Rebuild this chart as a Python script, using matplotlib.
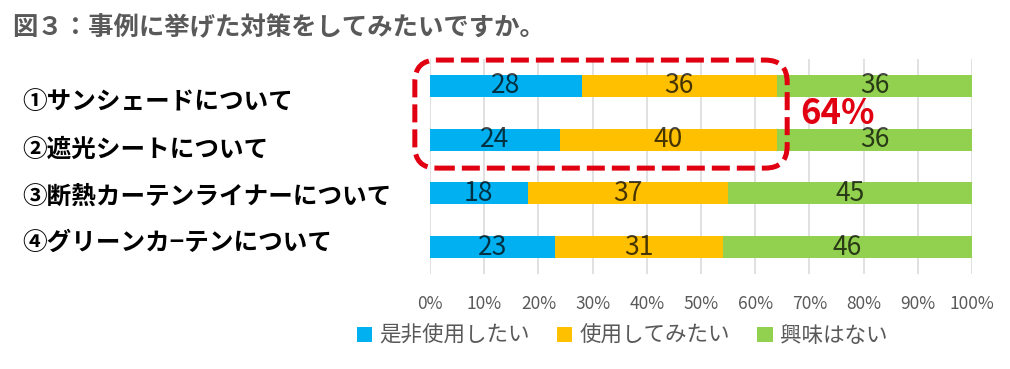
import matplotlib
matplotlib.use("Agg")
import matplotlib.pyplot as plt
from matplotlib.patches import FancyBboxPatch
from matplotlib.transforms import IdentityTransform

plt.rcParams["font.family"] = ["Noto Sans CJK JP", "DejaVu Sans"]

# Data
TITLE = "図３：事例に挙げた対策をしてみたいですか。"
ITEMS = [
    "①サンシェードについて",
    "②遮光シートについて",
    "③断熱カーテンライナーについて",
    "④グリーンカ−テンについて",
]
SERIES = ["是非使用したい", "使用してみたい", "興味はない"]
MUST_USE = [28, 24, 18, 23]
WANT_TRY = [36, 40, 37, 31]
NOT_INTERESTED = [36, 36, 45, 46]
TICKS = [0, 10, 20, 30, 40, 50, 60, 70, 80, 90, 100]
HIGHLIGHT = "64%"

# Style
COLORS = ["#00B0F0", "#FFC000", "#92D050"]
GRAY = "#595959"
RED = "#E00012"
W, H = 1010, 369
LABEL_Y_PX = [102, 150, 197, 243]


def main() -> None:
    fig = plt.figure(figsize=(W / 100, H / 100), dpi=100)
    fig.patch.set_facecolor("white")
    ax = fig.add_axes([430 / W, (H - 274) / H, 542 / W, 215 / H])

    y = list(range(len(ITEMS)))
    left = [0] * len(ITEMS)
    containers = []
    for vals, color in zip([MUST_USE, WANT_TRY, NOT_INTERESTED], COLORS):
        bc = ax.barh(y, vals, left=left, height=0.405, color=color, zorder=2)
        ax.bar_label(bc, label_type="center", fontsize=19,
                     color="black", alpha=0.72)
        containers.append(bc)
        left = [a + b for a, b in zip(left, vals)]

    ax.set_xlim(0, 100)
    ax.set_ylim(len(ITEMS) - 0.5, -0.5)
    ax.set_xticks(TICKS)
    ax.set_xticklabels([f"{t}%" for t in TICKS])
    ax.tick_params(axis="x", length=0, pad=15, labelsize=12.5, labelcolor=GRAY)
    ax.set_yticks([])
    ax.grid(axis="x", color="#D9D9D9", linewidth=1.1, zorder=0)
    ax.set_axisbelow(True)
    for s in ax.spines.values():
        s.set_visible(False)

    # Title and row labels
    fig.text(12 / W, 1 - 28 / H, TITLE, fontsize=18.3, fontweight="bold",
             color=GRAY, va="center", ha="left")
    for name, ypx in zip(ITEMS, LABEL_Y_PX):
        fig.text(22 / W, 1 - ypx / H, name, fontsize=17.7, fontweight="bold",
                 color="black", va="center", ha="left")

    # Legend
    fig.legend(containers, SERIES, loc="center",
               bbox_to_anchor=(622 / W, 1 - 336 / H), ncol=3, frameon=False,
               fontsize=15.5, handlelength=0.72, handleheight=0.72,
               handletextpad=0.34, columnspacing=1.25, labelcolor=GRAY)

    # Dashed highlight box around first two rows
    x0, y0 = ax.transData.transform((-2.8, 1.53))
    x1, y1 = ax.transData.transform((65.9, -0.48))
    box = FancyBboxPatch((x0, y0), x1 - x0, y1 - y0,
                         boxstyle="round,pad=0,rounding_size=22",
                         transform=IdentityTransform(), fill=False,
                         edgecolor=RED, linewidth=3.6,
                         linestyle=(0, (3.6, 1.4)), zorder=5)
    fig.add_artist(box)
    fig.text(800 / W, 1 - 113 / H, HIGHLIGHT, fontsize=25, fontweight="bold",
             color=RED, va="center", ha="left")

    fig.savefig("out.png", dpi=100)
    plt.close(fig)


if __name__ == "__main__":
    main()
